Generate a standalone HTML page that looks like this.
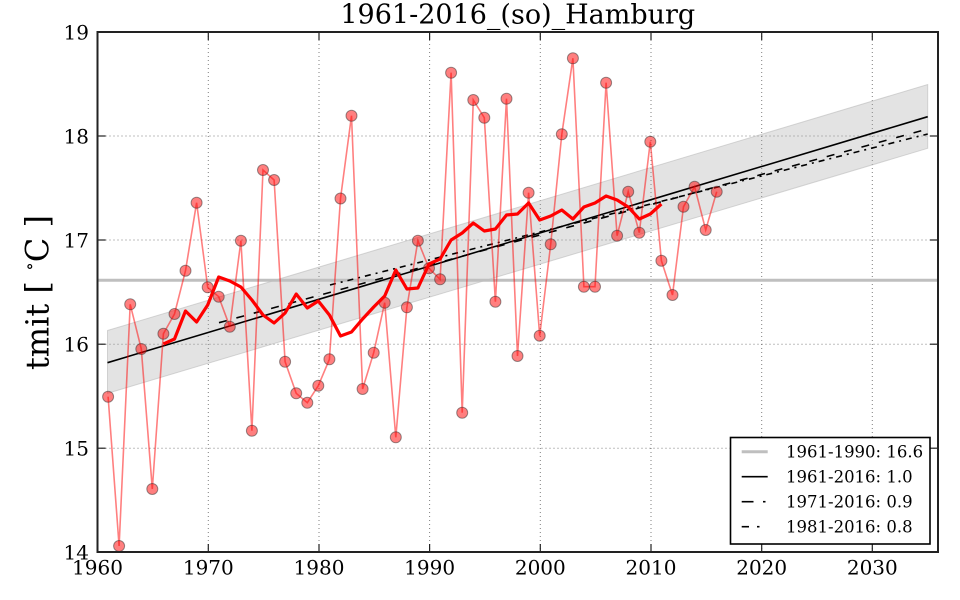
<!DOCTYPE html>
<html><head><meta charset="utf-8"><style>
html,body{margin:0;padding:0;background:#fff;}
svg{display:block;}
text{font-family:"DejaVu Serif","Liberation Serif",serif;fill:#000;}
</style></head><body>
<svg width="960" height="600" viewBox="0 0 960 600" xmlns="http://www.w3.org/2000/svg">
<rect x="0" y="0" width="960" height="600" fill="#fff"/>
<!-- grid -->
<g stroke="#000" stroke-opacity="0.5" stroke-width="1" stroke-dasharray="1,3" fill="none">
<line x1="208.3" y1="32" x2="208.3" y2="552"/>
<line x1="319" y1="32" x2="319" y2="552"/>
<line x1="429.6" y1="32" x2="429.6" y2="552"/>
<line x1="540.3" y1="32" x2="540.3" y2="552"/>
<line x1="651" y1="32" x2="651" y2="552"/>
<line x1="761.7" y1="32" x2="761.7" y2="552"/>
<line x1="872.3" y1="32" x2="872.3" y2="552"/>
<line x1="97.5" y1="136" x2="938" y2="136"/>
<line x1="97.5" y1="240" x2="938" y2="240"/>
<line x1="97.5" y1="344.2" x2="938" y2="344.2"/>
<line x1="97.5" y1="448.2" x2="938" y2="448.2"/>
</g>
<!-- band -->
<polygon points="107.5,330.5 927.7,84.5 927.7,148.3 107.5,393.3" fill="#999" fill-opacity="0.28" stroke="#bbb" stroke-opacity="0.6" stroke-width="1"/>
<!-- mean line -->
<line x1="97.5" y1="280.3" x2="938" y2="280.3" stroke="#bfbfbf" stroke-width="3"/>
<!-- trend lines -->
<line x1="107.5" y1="362.7" x2="927.7" y2="116.7" stroke="#000" stroke-width="1.6"/>
<line x1="219" y1="322.7" x2="927.7" y2="129" stroke="#000" stroke-width="1.6" stroke-dasharray="8,10"/>
<line x1="330" y1="285" x2="927.7" y2="134" stroke="#000" stroke-width="1.6" stroke-dasharray="6,5,2,5"/>
<!-- data line -->
<polyline fill="none" stroke="#ff0000" stroke-opacity="0.5" stroke-width="1.6" points="108.1,396.7 119.1,546 130.2,304.3 141.3,349 152.3,489 163.4,333.7 174.5,314 185.5,270.7 196.6,202.7 207.7,287.3 218.7,296.7 229.8,326.7 240.9,240.7 251.9,430.7 263.0,170 274.1,180 285.1,361.7 296.2,393.3 307.3,402.7 318.3,385.7 329.4,359.3 340.5,198.5 351.5,115.7 362.6,389 373.7,352.7 384.7,302.7 395.8,437.3 406.9,307.3 417.9,240.7 429.0,268.3 440.1,279.3 451.1,72.7 462.2,412.7 473.3,100 484.3,117.7 495.4,301.7 506.5,98.7 517.5,356 528.6,192.7 539.7,335.7 550.7,244.3 561.8,134.3 572.9,58.3 583.9,286.7 595.0,286.7 606.1,82.7 617.1,235.7 628.2,191.7 639.3,232.7 650.3,141.7 661.4,260.7 672.5,295 683.5,206.7 694.6,186.7 705.7,230 716.7,191.7"/>
<!-- markers -->
<g fill="#ff0000" fill-opacity="0.5" stroke="#333" stroke-opacity="0.5" stroke-width="1">
<circle cx="108.1" cy="396.7" r="5.5"/><circle cx="119.1" cy="546" r="5.5"/><circle cx="130.2" cy="304.3" r="5.5"/><circle cx="141.3" cy="349" r="5.5"/><circle cx="152.3" cy="489" r="5.5"/><circle cx="163.4" cy="333.7" r="5.5"/><circle cx="174.5" cy="314" r="5.5"/><circle cx="185.5" cy="270.7" r="5.5"/><circle cx="196.6" cy="202.7" r="5.5"/><circle cx="207.7" cy="287.3" r="5.5"/><circle cx="218.7" cy="296.7" r="5.5"/><circle cx="229.8" cy="326.7" r="5.5"/><circle cx="240.9" cy="240.7" r="5.5"/><circle cx="251.9" cy="430.7" r="5.5"/><circle cx="263.0" cy="170" r="5.5"/><circle cx="274.1" cy="180" r="5.5"/><circle cx="285.1" cy="361.7" r="5.5"/><circle cx="296.2" cy="393.3" r="5.5"/><circle cx="307.3" cy="402.7" r="5.5"/><circle cx="318.3" cy="385.7" r="5.5"/><circle cx="329.4" cy="359.3" r="5.5"/><circle cx="340.5" cy="198.5" r="5.5"/><circle cx="351.5" cy="115.7" r="5.5"/><circle cx="362.6" cy="389" r="5.5"/><circle cx="373.7" cy="352.7" r="5.5"/><circle cx="384.7" cy="302.7" r="5.5"/><circle cx="395.8" cy="437.3" r="5.5"/><circle cx="406.9" cy="307.3" r="5.5"/><circle cx="417.9" cy="240.7" r="5.5"/><circle cx="429.0" cy="268.3" r="5.5"/><circle cx="440.1" cy="279.3" r="5.5"/><circle cx="451.1" cy="72.7" r="5.5"/><circle cx="462.2" cy="412.7" r="5.5"/><circle cx="473.3" cy="100" r="5.5"/><circle cx="484.3" cy="117.7" r="5.5"/><circle cx="495.4" cy="301.7" r="5.5"/><circle cx="506.5" cy="98.7" r="5.5"/><circle cx="517.5" cy="356" r="5.5"/><circle cx="528.6" cy="192.7" r="5.5"/><circle cx="539.7" cy="335.7" r="5.5"/><circle cx="550.7" cy="244.3" r="5.5"/><circle cx="561.8" cy="134.3" r="5.5"/><circle cx="572.9" cy="58.3" r="5.5"/><circle cx="583.9" cy="286.7" r="5.5"/><circle cx="595.0" cy="286.7" r="5.5"/><circle cx="606.1" cy="82.7" r="5.5"/><circle cx="617.1" cy="235.7" r="5.5"/><circle cx="628.2" cy="191.7" r="5.5"/><circle cx="639.3" cy="232.7" r="5.5"/><circle cx="650.3" cy="141.7" r="5.5"/><circle cx="661.4" cy="260.7" r="5.5"/><circle cx="672.5" cy="295" r="5.5"/><circle cx="683.5" cy="206.7" r="5.5"/><circle cx="694.6" cy="186.7" r="5.5"/><circle cx="705.7" cy="230" r="5.5"/><circle cx="716.7" cy="191.7" r="5.5"/>
</g>
<!-- smoothed -->
<polyline fill="none" stroke="#ff0000" stroke-width="3.2" stroke-linejoin="round" points="163.4,344 174.5,339 185.5,311 196.6,322 207.7,305 218.7,277 229.8,281 240.9,287 251.9,300 263.0,315 274.1,323 285.1,313 296.2,294 307.3,308 318.3,301 329.4,315 340.5,336 351.5,332 362.6,319 373.7,307 384.7,296 395.8,270 406.9,289 417.9,288 429.0,264 440.1,259 451.1,240 462.2,233 473.3,223 484.3,231 495.4,229 506.5,215 517.5,214 528.6,203 539.7,220 550.7,216 561.8,210 572.9,219 583.9,207 595.0,203 606.1,196 617.1,200 628.2,207 639.3,219 650.3,214 661.4,204"/>
<!-- ticks -->
<g stroke="#222" stroke-width="1.2">
<line x1="208.3" y1="552" x2="208.3" y2="544"/><line x1="319" y1="552" x2="319" y2="544"/><line x1="429.6" y1="552" x2="429.6" y2="544"/><line x1="540.3" y1="552" x2="540.3" y2="544"/><line x1="651" y1="552" x2="651" y2="544"/><line x1="761.7" y1="552" x2="761.7" y2="544"/><line x1="872.3" y1="552" x2="872.3" y2="544"/>
<line x1="208.3" y1="32" x2="208.3" y2="40"/><line x1="319" y1="32" x2="319" y2="40"/><line x1="429.6" y1="32" x2="429.6" y2="40"/><line x1="540.3" y1="32" x2="540.3" y2="40"/><line x1="651" y1="32" x2="651" y2="40"/><line x1="761.7" y1="32" x2="761.7" y2="40"/><line x1="872.3" y1="32" x2="872.3" y2="40"/>
<line x1="97.5" y1="136" x2="105.5" y2="136"/><line x1="97.5" y1="240" x2="105.5" y2="240"/><line x1="97.5" y1="344.2" x2="105.5" y2="344.2"/><line x1="97.5" y1="448.2" x2="105.5" y2="448.2"/>
<line x1="938" y1="136" x2="930" y2="136"/><line x1="938" y1="240" x2="930" y2="240"/><line x1="938" y1="344.2" x2="930" y2="344.2"/><line x1="938" y1="448.2" x2="930" y2="448.2"/>
</g>
<!-- spines -->
<rect x="97.5" y="32" width="840.5" height="520" fill="none" stroke="#222" stroke-width="2"/>
<!-- legend -->
<rect x="730.5" y="437.5" width="199.5" height="106.5" fill="#fff" stroke="#000" stroke-width="1.6"/>
<line x1="741.7" y1="451.7" x2="767.7" y2="451.7" stroke="#bfbfbf" stroke-width="3"/>
<line x1="741.7" y1="476.7" x2="767.7" y2="476.7" stroke="#000" stroke-width="1.6"/>
<line x1="741.7" y1="501.7" x2="753.5" y2="501.7" stroke="#000" stroke-width="1.6"/>
<line x1="763" y1="501.7" x2="765.5" y2="501.7" stroke="#000" stroke-width="1.6"/>
<line x1="741.7" y1="526.7" x2="749" y2="526.7" stroke="#000" stroke-width="1.6"/>
<line x1="757" y1="526.7" x2="759.5" y2="526.7" stroke="#000" stroke-width="1.6"/>
<g font-size="16.5">
<text x="786" y="457.5">1961-1990: 16.6</text>
<text x="786" y="482.5">1961-2016: 1.0</text>
<text x="786" y="507.5">1971-2016: 0.9</text>
<text x="786" y="532.5">1981-2016: 0.8</text>
</g>
<!-- tick labels -->
<g font-size="20" text-anchor="middle">
<text x="97.5" y="574.3">1960</text>
<text x="208.3" y="574.3">1970</text>
<text x="319" y="574.3">1980</text>
<text x="429.6" y="574.3">1990</text>
<text x="540.3" y="574.3">2000</text>
<text x="651" y="574.3">2010</text>
<text x="761.7" y="574.3">2020</text>
<text x="872.3" y="574.3">2030</text>
</g>
<g font-size="20" text-anchor="end">
<text x="89" y="39.3">19</text>
<text x="89" y="143.3">18</text>
<text x="89" y="247.3">17</text>
<text x="89" y="351.5">16</text>
<text x="89" y="455.5">15</text>
<text x="89" y="559.5">14</text>
</g>
<!-- title -->
<text x="517.8" y="23.3" font-size="27" text-anchor="middle">1961-2016_(so)_Hamburg</text>
<!-- y label -->
<text transform="translate(48.5,292.5) rotate(-90)" font-size="32" text-anchor="middle">tmit [ <tspan font-size="18" dy="-13">∘</tspan><tspan dy="13">C ]</tspan></text>
</svg>
</body></html>
